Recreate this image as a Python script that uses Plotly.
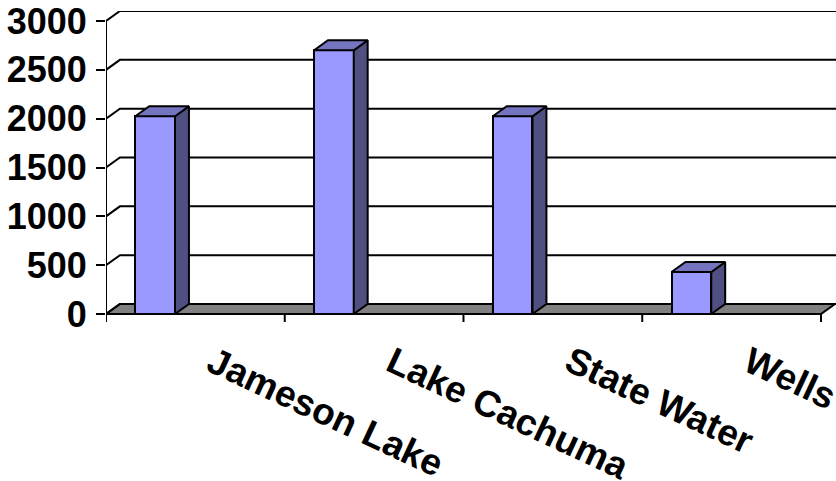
import plotly.graph_objects as go

# Water supply sources (acre-feet)
categories = ["Jameson Lake", "Lake Cachuma", "State Water", "Wells"]
supply = [2025, 2700, 2025, 430]
y_ticks = [0, 500, 1000, 1500, 2000, 2500, 3000]

# 3-D look: depth offsets in data units
DX = 0.078
DY = 102.4
BAR_SHIFT = -0.225
BAR_WIDTH = 0.222
X_MIN, X_MAX = -0.5, 3.584
Y_MIN, Y_MAX = -82.0, 3102.4
FLOOR_END = len(categories) - 0.5

FRONT = "#9999FF"
SIDE = "#4F4F82"
TOP = "#7474C0"
TICK_FONT = dict(family="Liberation Sans, Arial, sans-serif", size=36, color="black", weight=700)
LABEL_FONT = dict(family="Liberation Sans, Arial, sans-serif", size=37, color="black", weight=700)

shapes = []
# floor slab
shapes.append(dict(
    type="path", layer="below", xref="x", yref="y",
    path=f"M {X_MIN},0 L {FLOOR_END},0 L {FLOOR_END + DX},{DY} L {X_MIN + DX},{DY} Z",
    fillcolor="#808080", line=dict(color="black", width=2),
))
# back-wall gridlines with the slanted side-wall connectors
for v in y_ticks:
    shapes.append(dict(
        type="path", layer="below", xref="x", yref="y",
        path=f"M {X_MIN},{v} L {X_MIN + DX},{v + DY} L {X_MAX + 0.05},{v + DY}",
        line=dict(color="black", width=2),
    ))
# front value axis line
shapes.append(dict(
    type="line", layer="below", xref="x", yref="y",
    x0=X_MIN, x1=X_MIN, y0=Y_MIN, y1=max(y_ticks),
    line=dict(color="black", width=2),
))
# category divider ticks under the floor edge
for k in range(len(categories) + 1):
    xb = X_MIN + k
    shapes.append(dict(
        type="line", layer="below", xref="x", yref="y",
        x0=xb, x1=xb, y0=0, y1=Y_MIN,
        line=dict(color="black", width=2),
    ))

fig = go.Figure()

xs = [i + BAR_SHIFT for i in range(len(categories))]
fig.add_trace(go.Bar(
    x=xs, y=supply, width=BAR_WIDTH,
    marker=dict(color=FRONT, line=dict(color="black", width=2)),
    hoverinfo="skip", showlegend=False,
))

for xc, v in zip(xs, supply):
    xl, xr = xc - BAR_WIDTH / 2, xc + BAR_WIDTH / 2
    # right side face
    fig.add_trace(go.Scatter(
        x=[xr, xr + DX, xr + DX, xr, xr],
        y=[0, DY, v + DY, v, 0],
        mode="lines", fill="toself", fillcolor=SIDE,
        line=dict(color="black", width=2),
        hoverinfo="skip", showlegend=False,
    ))
    # top face
    fig.add_trace(go.Scatter(
        x=[xl, xl + DX, xr + DX, xr, xl],
        y=[v, v + DY, v + DY, v, v],
        mode="lines", fill="toself", fillcolor=TOP,
        line=dict(color="black", width=2),
        hoverinfo="skip", showlegend=False,
    ))

annotations = []
for i, name in enumerate(categories):
    annotations.append(dict(
        x=i + 0.02, y=Y_MIN, xref="x", yref="y",
        xanchor="left", yanchor="top", yshift=-15,
        text=name, textangle=25, showarrow=False,
        font=LABEL_FONT,
    ))

fig.update_layout(
    width=836, height=481,
    margin=dict(l=106, r=0, t=11, b=159),
    paper_bgcolor="white", plot_bgcolor="white",
    bargap=0, showlegend=False,
    shapes=shapes, annotations=annotations,
    xaxis=dict(range=[X_MIN, X_MAX], visible=False, fixedrange=True),
    yaxis=dict(
        range=[Y_MIN, Y_MAX], tickmode="array", tickvals=y_ticks,
        showgrid=False, zeroline=False, showline=False,
        ticks="outside", ticklen=9, tickwidth=2, tickcolor="black",
        tickfont=TICK_FONT, ticklabelstandoff=2, fixedrange=True,
    ),
)

fig.write_html("out.html")
